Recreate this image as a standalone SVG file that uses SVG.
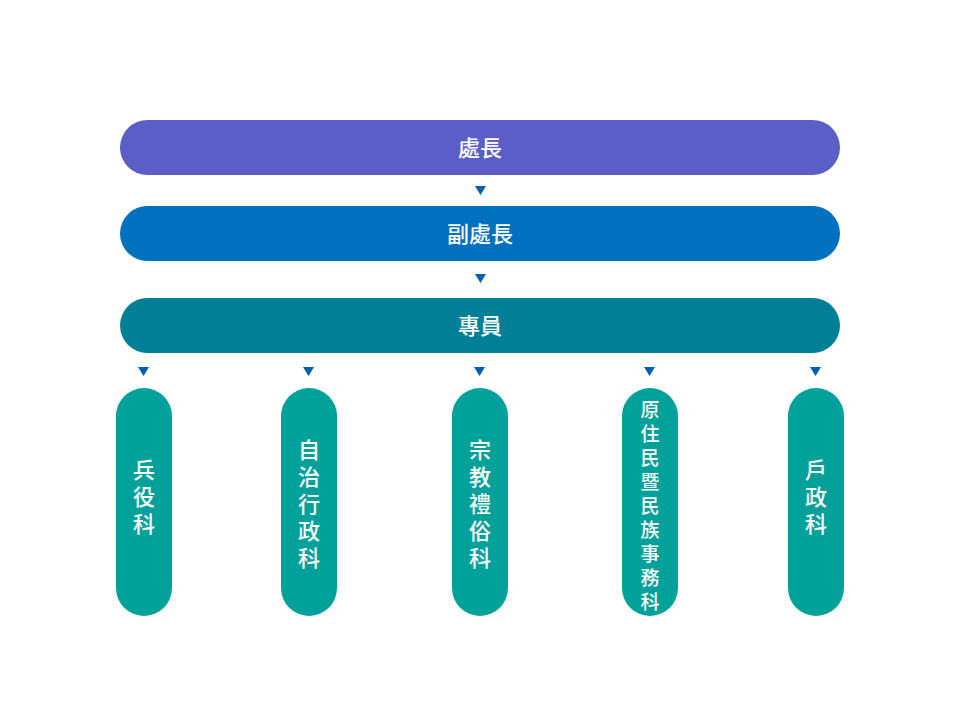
<svg xmlns="http://www.w3.org/2000/svg" width="960" height="720" viewBox="0 0 960 720">
<style>
text{font-family:"Noto Sans CJK TC","Noto Sans CJK SC",sans-serif;fill:#fff;text-anchor:middle;dominant-baseline:central;font-weight:500}
.h{font-size:22px}
.v{font-size:22px}
.s{font-size:19px}
.col{fill:#00A19A}
.arr{fill:#0060B0}
</style>
<rect width="960" height="720" fill="#fff"/>
<g id="n1"><rect x="120" y="120" width="720" height="55" rx="27.5" fill="#5B5EC6"/><text class="h" x="480" y="146">處長</text></g>
<g id="n2"><rect x="120" y="206" width="720" height="55" rx="27.5" fill="#0070BF"/><text class="h" x="480" y="232">副處長</text></g>
<g id="n3"><rect x="120" y="298" width="720" height="55" rx="27.5" fill="#007F96"/><text class="h" x="480" y="324">專員</text></g>
<g id="c1"><rect class="col" x="116" y="388" width="56" height="228" rx="28"/>
<text class="v" x="144" y="468">兵</text><text class="v" x="144" y="495">役</text><text class="v" x="144" y="522">科</text></g>
<g id="c2"><rect class="col" x="281" y="388" width="56" height="228" rx="28"/>
<text class="v" x="309" y="448">自</text><text class="v" x="309" y="475">治</text><text class="v" x="309" y="502">行</text><text class="v" x="309" y="529">政</text><text class="v" x="309" y="556">科</text></g>
<g id="c3"><rect class="col" x="452" y="388" width="56" height="228" rx="28"/>
<text class="v" x="480" y="448">宗</text><text class="v" x="480" y="475">教</text><text class="v" x="480" y="502">禮</text><text class="v" x="480" y="529">俗</text><text class="v" x="480" y="556">科</text></g>
<g id="c4"><rect class="col" x="622" y="388" width="56" height="228" rx="28"/>
<text class="s" x="650" y="408">原</text><text class="s" x="650" y="432">住</text><text class="s" x="650" y="456">民</text><text class="s" x="650" y="480">暨</text><text class="s" x="650" y="504">民</text><text class="s" x="650" y="528">族</text><text class="s" x="650" y="552">事</text><text class="s" x="650" y="576">務</text><text class="s" x="650" y="600">科</text></g>
<g id="c5"><rect class="col" x="788" y="388" width="56" height="228" rx="28"/>
<text class="v" x="816" y="468">戶</text><text class="v" x="816" y="495">政</text><text class="v" x="816" y="522">科</text></g>
<g id="connectors" class="arr">
<polygon points="475,186 486,186 480.5,195"/>
<polygon points="475,274 486,274 480.5,283"/>
<polygon points="138,367 149,367 143.5,376"/>
<polygon points="303,367 314,367 308.5,376"/>
<polygon points="474,367 485,367 479.5,376"/>
<polygon points="644,367 655,367 649.5,376"/>
<polygon points="810,367 821,367 815.5,376"/>
</g>
</svg>
